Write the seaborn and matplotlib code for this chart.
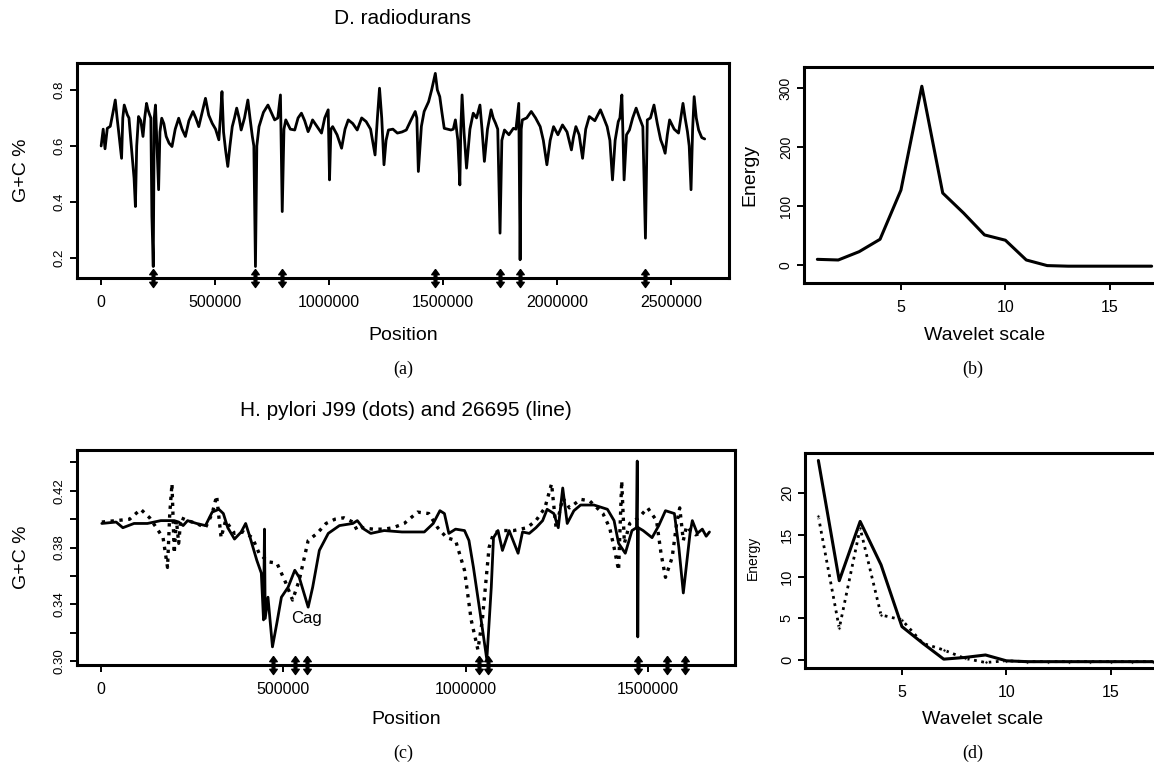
"""G+C content profiles and wavelet energy: D. radiodurans and H. pylori."""
import matplotlib

matplotlib.use("Agg")
import matplotlib.pyplot as plt
import pandas as pd
import seaborn as sns
from matplotlib.ticker import FixedFormatter, FixedLocator

# ---- (a) D. radiodurans G+C profile ----
RADIO_POS = [
    0, 9000, 17000, 27000, 40000, 52000, 62000, 70000, 76000, 89600, 95000, 101300,
    115000, 122000, 128700, 144400, 150300, 156000, 164000, 174000, 183600, 191000,
    199200, 205000, 212900, 218000, 222700, 228600, 233000, 238400, 245000, 252100,
    258000, 265800, 275000, 285400, 298000, 310800, 325000, 340200, 355000, 369600,
    385000, 402900, 415000, 428300, 443000, 457700, 472000, 487100, 502000, 516400,
    523000, 530100, 537000, 545800, 555600, 565000, 575200, 585000, 594700, 605000,
    614300, 629000, 643700, 653000, 663300, 670000, 677000, 683000, 692600, 712000,
    731800, 746000, 761200, 775000, 786600, 794500, 802000, 810100, 830000, 849300,
    864000, 878700, 893000, 908000, 918000, 927600, 947000, 966800, 981000, 996100,
    1002000, 1008000, 1015700, 1035000, 1054900, 1070000, 1084200, 1104000, 1123400,
    1143000, 1162600, 1182000, 1201700, 1212000, 1221300, 1231000, 1240900, 1250000,
    1260500, 1280000, 1299600, 1320000, 1338800, 1358000, 1377900, 1385000, 1391700,
    1405000, 1417100, 1436700, 1450000, 1466100, 1475000, 1485600, 1495000, 1505200,
    1520000, 1534600, 1545000, 1554200, 1565000, 1573700, 1578000, 1583500, 1592000,
    1603100, 1618000, 1632500, 1647000, 1661900, 1671000, 1681400, 1695000, 1710800,
    1720000, 1730400, 1740000, 1750000, 1758000, 1769500, 1789000, 1808700, 1820000,
    1832200, 1838100, 1843000, 1847900, 1867000, 1887000, 1906000, 1926200, 1940000,
    1955600, 1970000, 1984900, 2004000, 2024100, 2044000, 2063200, 2072000, 2082800,
    2097000, 2112200, 2126000, 2141600, 2166000, 2190500, 2205000, 2219900, 2232000,
    2243400, 2255000, 2268800, 2276000, 2284500, 2289000, 2294300, 2305000, 2317800,
    2332000, 2347200, 2362000, 2376500, 2388000, 2396100, 2410000, 2425500, 2440000,
    2454800, 2465000, 2474400, 2484000, 2494000, 2514000, 2533200, 2543000, 2552700,
    2562000, 2572300, 2580000, 2588000, 2595000, 2601700, 2611000, 2621300, 2635000,
    2648000,
]
RADIO_GC = [
    0.60, 0.66, 0.59, 0.663, 0.67, 0.72, 0.764, 0.70, 0.657, 0.556, 0.70, 0.746,
    0.711, 0.70, 0.634, 0.485, 0.384, 0.60, 0.705, 0.69, 0.634, 0.70,
    0.752, 0.73, 0.711, 0.70, 0.349, 0.17, 0.70, 0.746, 0.60, 0.444,
    0.65, 0.699, 0.68, 0.634, 0.61, 0.598, 0.66, 0.699, 0.66, 0.634,
    0.69, 0.723, 0.70, 0.669, 0.72, 0.77, 0.71, 0.681, 0.66, 0.622,
    0.70, 0.794, 0.65, 0.586, 0.527, 0.60, 0.669, 0.70, 0.735, 0.70,
    0.657, 0.70, 0.764, 0.70, 0.634, 0.60, 0.17, 0.60, 0.669, 0.72,
    0.746, 0.72, 0.693, 0.70, 0.782, 0.366, 0.66, 0.693, 0.66, 0.657,
    0.70, 0.717, 0.69, 0.651, 0.67, 0.693, 0.67, 0.646, 0.70, 0.729,
    0.479, 0.66, 0.669, 0.64, 0.592, 0.66, 0.693, 0.68, 0.657,
    0.70, 0.687, 0.66, 0.568, 0.70, 0.806, 0.70, 0.533, 0.62,
    0.657, 0.66, 0.646, 0.65, 0.657, 0.69, 0.723, 0.70, 0.509,
    0.67, 0.723, 0.758, 0.80, 0.859, 0.80, 0.776, 0.72, 0.663,
    0.66, 0.657, 0.66, 0.693, 0.62, 0.461, 0.66, 0.782, 0.65,
    0.521, 0.66, 0.717, 0.70, 0.746, 0.66, 0.545, 0.66, 0.729,
    0.70, 0.681, 0.66, 0.289, 0.62, 0.657, 0.64, 0.663, 0.66,
    0.752, 0.194, 0.66, 0.693, 0.70, 0.723, 0.70, 0.669, 0.62,
    0.533, 0.62, 0.669, 0.64, 0.675, 0.65, 0.586, 0.63, 0.669,
    0.64, 0.556, 0.66, 0.705, 0.69, 0.729, 0.70, 0.669, 0.62,
    0.479, 0.62, 0.687, 0.70, 0.782, 0.65, 0.479, 0.64, 0.657,
    0.70, 0.735, 0.70, 0.669, 0.271, 0.693, 0.70, 0.746, 0.68,
    0.622, 0.60, 0.574, 0.64, 0.693, 0.66, 0.646, 0.70, 0.752,
    0.70, 0.651, 0.60, 0.444, 0.66, 0.776, 0.70, 0.657, 0.63,
    0.625,
]
RADIO_MARKS = [228600, 677000, 794500, 1466000, 1750000, 1838000, 2388000]

# ---- (b) / (d) wavelet energy ----
SCALES = list(range(1, 18))
RADIO_ENERGY = [9.6, 8.5, 22.6, 43.6, 127, 303, 122, 88, 51, 42, 8.5, -1, -2, -2, -2, -2, -2]
PYLORI_26695_ENERGY = [23.9, 9.5, 16.6, 11.4, 4.0, 2.0, 0.1, 0.3, 0.6, -0.1,
                       -0.2, -0.2, -0.2, -0.2, -0.2, -0.2, -0.2]
PYLORI_J99_ENERGY = [17.2, 3.8, 15.8, 5.4, 4.8, 2.0, 1.2, 0.2, -0.3, -0.1,
                     -0.2, -0.2, -0.2, -0.2, -0.2, -0.2, -0.2]

# ---- (c) H. pylori 26695 (line) ----
P26695_POS = [
    2000, 41300, 59700, 90300, 127100, 163800, 200500, 212800, 225000, 237200, 261700,
    286200, 304600, 323000, 335200, 347400, 365800, 384200, 396400, 408700, 427000,
    439300, 445400, 448000, 450000, 457600, 469900, 482100, 494400, 512700, 531100,
    543300, 567800, 580100, 598400, 622900, 653500, 690300, 702500, 720900, 739300,
    776000, 825000, 886200, 910700, 929000, 941300, 953500, 971900, 996400, 1008600,
    1020900, 1039200, 1057600, 1069800, 1075900, 1088200, 1100400, 1118800, 1143300,
    1155500, 1173900, 1192300, 1210600, 1222900, 1241300, 1253500, 1265700, 1278000,
    1296300, 1314700, 1351400, 1388200, 1406500, 1418800, 1437200, 1455500, 1467800,
    1470000, 1471400, 1473000, 1486100, 1510600, 1529000, 1547400, 1571800, 1584100,
    1596300, 1614700, 1621000, 1634700, 1648400, 1659000, 1668000,
]
P26695_GC = [
    0.397, 0.398, 0.394, 0.397, 0.397, 0.399, 0.399, 0.398, 0.3955, 0.399, 0.397,
    0.3955, 0.405, 0.407, 0.404, 0.394, 0.386, 0.391, 0.397, 0.387, 0.371,
    0.362, 0.329, 0.393, 0.330, 0.345, 0.310, 0.327, 0.345, 0.352, 0.364,
    0.359, 0.338, 0.352, 0.378, 0.390, 0.3955, 0.397, 0.399, 0.393, 0.390,
    0.392, 0.391, 0.391, 0.397, 0.406, 0.404, 0.390, 0.393, 0.392, 0.385,
    0.366, 0.334, 0.301, 0.352, 0.387, 0.392, 0.378, 0.392, 0.376,
    0.391, 0.390, 0.394, 0.399, 0.407, 0.404, 0.394, 0.422, 0.397,
    0.406, 0.410, 0.410, 0.407, 0.399, 0.383, 0.376, 0.392, 0.394,
    0.441, 0.317, 0.394, 0.392, 0.387, 0.3955, 0.406, 0.404, 0.380,
    0.348, 0.390, 0.399, 0.390, 0.393, 0.388, 0.391,
]

# ---- (c) H. pylori J99 (dots) ----
J99_POS = [
    2000, 41300, 78100, 108700, 133200, 151500, 169900, 182200, 188300, 194400, 200500,
    206600, 212800, 218900, 237200, 261700, 286200, 304600, 316800, 329100, 341300,
    365800, 390300, 414800, 433200, 457600, 482100, 506600, 525000, 543300, 567800,
    592300, 616800, 641300, 665800, 690300, 702500, 714800, 745400, 776000, 800500,
    831100, 867800, 898400, 922900, 947400, 971900, 996400, 1014700, 1033100, 1045300,
    1063700, 1075900, 1094300, 1131100, 1167800, 1192300, 1216800, 1235100, 1247400,
    1265700, 1284100, 1314700, 1339200, 1375900, 1394300, 1406500, 1418800, 1427400,
    1434700, 1449400, 1473900, 1498400, 1522900, 1535100, 1547400, 1565700, 1578000,
    1586500, 1596300, 1605000, 1615000, 1630000, 1643000,
]
J99_GC = [
    0.398, 0.399, 0.400, 0.407, 0.401, 0.394, 0.387, 0.366, 0.404, 0.425, 0.376,
    0.399, 0.383, 0.401, 0.399, 0.397, 0.394, 0.404, 0.4165, 0.387, 0.399,
    0.390, 0.391, 0.387, 0.376, 0.370, 0.369, 0.355, 0.343, 0.357, 0.385,
    0.390, 0.397, 0.400, 0.401, 0.398, 0.392, 0.394, 0.393, 0.393, 0.394,
    0.397, 0.405, 0.404, 0.394, 0.387, 0.385, 0.364, 0.329, 0.308, 0.329,
    0.380, 0.390, 0.392, 0.392, 0.394, 0.399, 0.408, 0.425, 0.394,
    0.415, 0.408, 0.414, 0.413, 0.404, 0.394, 0.380, 0.364, 0.427,
    0.383, 0.397, 0.401, 0.408, 0.399, 0.376, 0.359, 0.373, 0.397,
    0.408, 0.385, 0.395, 0.392, 0.389, 0.390,
]
PYLORI_MARKS = [472000, 531000, 565000, 1035600, 1061300, 1472800, 1552400, 1601700]

W, H = 1154, 763
ARROW = [(0, 1), (0.42, 0.42), (0.15, 0.42), (0.15, -0.42), (0.42, -0.42), (0, -1),
         (-0.42, -0.42), (-0.15, -0.42), (-0.15, 0.42), (-0.42, 0.42), (0, 1)]


def _box(x0, y0, x1, y1):
    """Axes rectangle from pixel edges (left, top, right, bottom)."""
    return [x0 / W, 1 - y1 / H, (x1 - x0) / W, (y1 - y0) / H]


def _style(ax, yrot_size, xsize=11.5):
    for sp in ax.spines.values():
        sp.set_visible(True)
        sp.set_linewidth(2.2)
        sp.set_color("black")
    ax.tick_params(axis="both", direction="out", length=5, width=1.4, color="black",
                   labelcolor="black")
    ax.tick_params(axis="x", labelsize=xsize, pad=7)
    ax.tick_params(axis="y", labelsize=yrot_size, labelrotation=90, pad=3)
    for lab in ax.get_yticklabels():
        lab.set_verticalalignment("center")
    ax.set(xlabel="", ylabel="")
    ax.grid(False)


def _int_ticks(ax, ticks):
    ax.xaxis.set_major_locator(FixedLocator(ticks))
    ax.xaxis.set_major_formatter(FixedFormatter([str(t) for t in ticks]))


def main() -> None:
    sns.set_theme(style="ticks")
    plt.rcParams["font.family"] = ["Liberation Sans", "DejaVu Sans"]
    plt.rcParams["text.color"] = "black"

    fig = plt.figure(figsize=(W / 100, H / 100), dpi=100)
    ax_a = fig.add_axes(_box(77, 63, 729, 278))
    ax_b = fig.add_axes(_box(804, 67, 1165, 283))
    ax_c = fig.add_axes(_box(77, 450, 735, 665))
    ax_d = fig.add_axes(_box(805, 453, 1166, 668))

    # (a)
    radio = pd.DataFrame({"pos": RADIO_POS, "gc": RADIO_GC})
    sns.lineplot(data=radio, x="pos", y="gc", ax=ax_a, color="black", lw=2.0,
                 estimator=None, sort=False)
    ax_a.set_xlim(-105945, 2754583)
    ax_a.set_ylim(0.129, 0.896)
    _int_ticks(ax_a, [0, 500000, 1000000, 1500000, 2000000, 2500000])
    ax_a.set_yticks([0.2, 0.4, 0.6, 0.8])
    ax_a.set_yticklabels(["0.2", "0.4", "0.6", "0.8"])
    ax_a.plot(RADIO_MARKS, [0] * len(RADIO_MARKS), transform=ax_a.get_xaxis_transform(),
              ls="none", marker=ARROW, markersize=13, color="black", clip_on=False)
    _style(ax_a, 9.5)

    # (b)
    rad_e = pd.DataFrame({"scale": SCALES, "energy": RADIO_ENERGY})
    sns.lineplot(data=rad_e, x="scale", y="energy", ax=ax_b, color="black", lw=2.2,
                 estimator=None, sort=False)
    ax_b.set_xlim(0.36, 17.64)
    ax_b.set_ylim(-30.5, 335.6)
    ax_b.set_xticks([5, 10, 15])
    ax_b.set_xticklabels(["5", "10", "15"])
    ax_b.set_yticks([0, 100, 200, 300])
    ax_b.set_yticklabels(["0", "100", "200", "300"])
    _style(ax_b, 10)

    # (c)
    p26695 = pd.DataFrame({"pos": P26695_POS, "gc": P26695_GC})
    j99 = pd.DataFrame({"pos": J99_POS, "gc": J99_GC})
    sns.lineplot(data=j99, x="pos", y="gc", ax=ax_c, color="black", lw=2.4,
                 linestyle=":", estimator=None, sort=False)
    sns.lineplot(data=p26695, x="pos", y="gc", ax=ax_c, color="black", lw=2.0,
                 estimator=None, sort=False)
    ax_c.set_xlim(-66000, 1738000)
    ax_c.set_ylim(0.2972, 0.4488)
    _int_ticks(ax_c, [0, 500000, 1000000, 1500000])
    yt = [0.30, 0.32, 0.34, 0.36, 0.38, 0.40, 0.42, 0.44]
    ax_c.yaxis.set_major_locator(FixedLocator(yt))
    ax_c.yaxis.set_major_formatter(FixedFormatter(
        ["0.30", "", "0.34", "", "0.38", "", "0.42", ""]))
    ax_c.plot(PYLORI_MARKS, [0] * len(PYLORI_MARKS), transform=ax_c.get_xaxis_transform(),
              ls="none", marker=ARROW, markersize=13, color="black", clip_on=False)
    ax_c.text(562000, 0.330, "Cag", fontsize=12, ha="center", va="center")
    _style(ax_c, 9.5)

    # (d)
    e26695 = pd.DataFrame({"scale": SCALES, "energy": PYLORI_26695_ENERGY})
    ej99 = pd.DataFrame({"scale": SCALES, "energy": PYLORI_J99_ENERGY})
    sns.lineplot(data=ej99, x="scale", y="energy", ax=ax_d, color="black", lw=2.0,
                 linestyle=":", marker="o", markersize=2.5, estimator=None, sort=False)
    sns.lineplot(data=e26695, x="scale", y="energy", ax=ax_d, color="black", lw=2.2,
                 estimator=None, sort=False)
    ax_d.set_xlim(0.36, 17.64)
    ax_d.set_ylim(-0.96, 24.8)
    ax_d.set_xticks([5, 10, 15])
    ax_d.set_xticklabels(["5", "10", "15"])
    ax_d.set_yticks([0, 5, 10, 15, 20])
    ax_d.set_yticklabels(["0", "5", "10", "15", "20"])
    _style(ax_d, 10.5)

    # titles, axis labels and panel letters
    fig.text(403 / W, 1 - 18 / H, "D. radiodurans", fontsize=15, ha="center", va="center")
    fig.text(406 / W, 1 - 410 / H, "H. pylori J99 (dots) and 26695 (line)", fontsize=15,
             ha="center", va="center")
    for x, y in [(403, 335), (406, 720)]:
        fig.text(x / W, 1 - y / H, "Position", fontsize=14, ha="center", va="center")
    for x, y in [(985, 335), (983, 720)]:
        fig.text(x / W, 1 - y / H, "Wavelet scale", fontsize=14, ha="center", va="center")
    for y in [170, 557]:
        fig.text(22 / W, 1 - y / H, "G+C %", fontsize=14, rotation=90,
                 ha="center", va="center")
    fig.text(750 / W, 1 - 175 / H, "Energy", fontsize=14, rotation=90, ha="center", va="center")
    fig.text(753 / W, 1 - 558 / H, "Energy", fontsize=10, rotation=90, ha="center", va="center")
    serif = ["Liberation Serif", "DejaVu Serif"]
    for x, y, s in [(403, 369, "(a)"), (973, 369, "(b)"), (403, 753, "(c)"), (973, 753, "(d)")]:
        fig.text(x / W, 1 - y / H, s, fontsize=13, family=serif, ha="center", va="center")

    fig.savefig("out.png", dpi=100)
    plt.close(fig)


if __name__ == "__main__":
    main()
